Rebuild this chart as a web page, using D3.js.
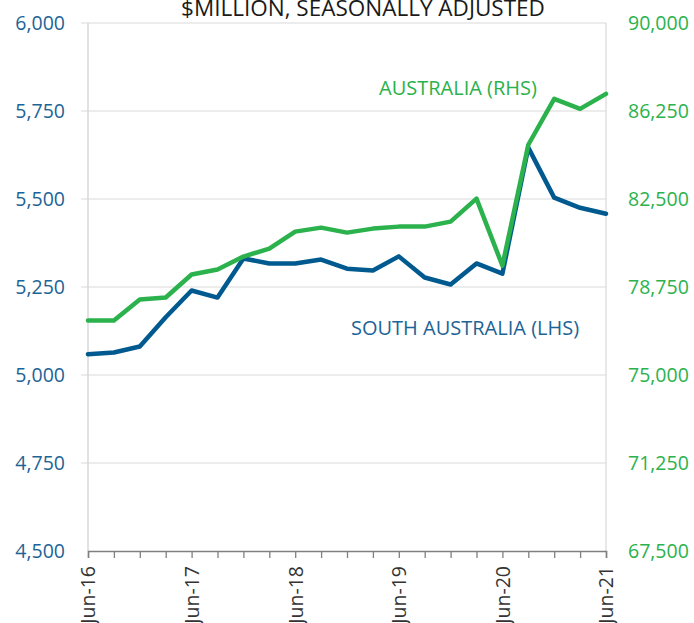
<!DOCTYPE html>
<html><head><meta charset="utf-8">
<script src="https://cdn.jsdelivr.net/npm/d3@7"></script>
<style>body{margin:0;background:#fff}svg{display:block}text{font-family:"Open Sans",sans-serif}</style>
</head><body><svg id="c" width="694" height="623"></svg>
<script>
const quarters = ["Jun-16","Sep-16","Dec-16","Mar-17","Jun-17","Sep-17","Dec-17","Mar-18","Jun-18","Sep-18","Dec-18","Mar-19","Jun-19","Sep-19","Dec-19","Mar-20","Jun-20","Sep-20","Dec-20","Mar-21","Jun-21"];
const southAustralia = [5059,5064,5081,5164,5240,5220,5331,5317,5317,5328,5302,5297,5337,5277,5257,5317,5288,5646,5504,5475,5458];
const australia = [77325,77325,78218,78303,79282,79494,80047,80387,81110,81281,81068,81238,81323,81323,81536,82514,79660,84811,86767,86342,86980];
const leftTicks = [4500,4750,5000,5250,5500,5750,6000];
const rightTicks = [67500,71250,75000,78750,82500,86250,90000];
const xLabels = ["Jun-16","Jun-17","Jun-18","Jun-19","Jun-20","Jun-21"];

const svg = d3.select("#c");
const L = 88, R = 606, T = 23, B = 551;
const blue = "#005a8f", green = "#2bb24c", blueTxt = "#1d6496", greenTxt = "#2bb24c";
const x = d3.scalePoint().domain(quarters).range([L, R]);
const yL = d3.scaleLinear().domain([4500, 6000]).range([B, T]);
const yR = d3.scaleLinear().domain([67500, 90000]).range([B, T]);
const fmt = d3.format(",");

// gridlines
const grid = svg.append("g");
grid.selectAll("line").data(leftTicks.slice(1)).join("line")
  .attr("x1", L - 7).attr("x2", R).attr("y1", d => yL(d)).attr("y2", d => yL(d))
  .attr("stroke", "#d9d9d9").attr("stroke-width", 1.2);
grid.append("line").attr("x1", L).attr("x2", L).attr("y1", T).attr("y2", B).attr("stroke", "#d9d9d9").attr("stroke-width", 1.5);
grid.append("line").attr("x1", R).attr("x2", R).attr("y1", T).attr("y2", B).attr("stroke", "#d9d9d9").attr("stroke-width", 1.2);

// left axis
const gl = svg.append("g").attr("transform", `translate(${L - 23},0)`)
  .call(d3.axisLeft(yL).tickValues(leftTicks).tickFormat(fmt).tickSize(0).tickPadding(0));
gl.select(".domain").remove();
gl.selectAll("text").attr("fill", blueTxt).attr("font-size", 19.5).attr("font-family", "Open Sans");

// right axis
const gr = svg.append("g").attr("transform", `translate(${R + 22},0)`)
  .call(d3.axisRight(yR).tickValues(rightTicks).tickFormat(fmt).tickSize(0).tickPadding(0));
gr.select(".domain").remove();
gr.selectAll("text").attr("fill", greenTxt).attr("font-size", 19.5).attr("font-family", "Open Sans");

// bottom axis
const gb = svg.append("g").attr("transform", `translate(0,${B})`)
  .call(d3.axisBottom(x).tickValues(quarters).tickSize(7).tickFormat(d => xLabels.includes(d) ? d : ""));
gb.select(".domain").attr("stroke", "#808080").attr("stroke-width", 1.5);
gb.selectAll(".tick line").attr("stroke", "#808080").attr("stroke-width", 1.3);
gb.selectAll("text").attr("fill", "#333").attr("font-size", 19.5).attr("font-family", "Open Sans")
  .attr("transform", "rotate(-90)").attr("text-anchor", "end").attr("dy", "0.35em").attr("x", -15).attr("y", 0);

// lines
const lineL = d3.line().x((d, i) => x(quarters[i])).y(d => yL(d));
const lineR = d3.line().x((d, i) => x(quarters[i])).y(d => yR(d));
svg.append("path").datum(southAustralia).attr("d", lineL).attr("fill", "none")
  .attr("stroke", blue).attr("stroke-width", 4.5).attr("stroke-linejoin", "round").attr("stroke-linecap", "round");
svg.append("path").datum(australia).attr("d", lineR).attr("fill", "none")
  .attr("stroke", green).attr("stroke-width", 4.5).attr("stroke-linejoin", "round").attr("stroke-linecap", "round");

// labels
svg.append("text").attr("x", 363).attr("y", 16).attr("text-anchor", "middle")
  .attr("font-size", 22.5).attr("fill", "#1a1a1a").text("$MILLION, SEASONALLY ADJUSTED");
svg.append("text").attr("x", 379).attr("y", 95).attr("font-size", 20).attr("fill", greenTxt).text("AUSTRALIA (RHS)");
svg.append("text").attr("x", 351).attr("y", 335).attr("font-size", 20).attr("fill", blueTxt).text("SOUTH AUSTRALIA (LHS)");
</script></body></html>
